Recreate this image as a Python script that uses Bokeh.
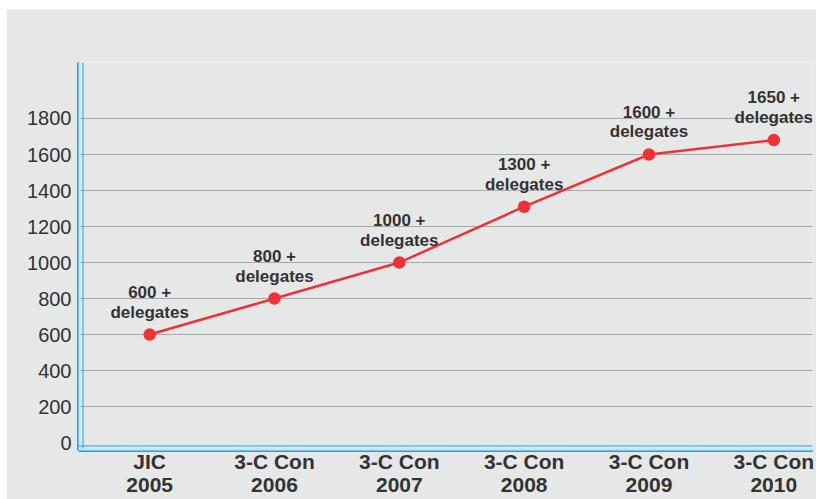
from bokeh.plotting import figure
from bokeh.models import ColumnDataSource, FixedTicker, Span, Range1d, Spacer
from bokeh.layouts import column, row
from bokeh.core.properties import value
from bokeh.embed import file_html
from bokeh.resources import INLINE

# ---- data ----
events = ["JIC", "3-C Con", "3-C Con", "3-C Con", "3-C Con", "3-C Con"]
years = ["2005", "2006", "2007", "2008", "2009", "2010"]
delegates = [600, 800, 1000, 1310, 1600, 1680]
point_labels = ["600 +", "800 +", "1000 +", "1300 +", "1600 +", "1650 +"]
y_ticks = [0, 200, 400, 600, 800, 1000, 1200, 1400, 1600, 1800]

X0, X1 = -0.57, 5.31
Y0, Y1 = -44, 2111

xs = list(range(len(events)))
src = ColumnDataSource(dict(
    x=xs,
    y=delegates,
    lab=[f"{a}\ndelegates" for a in point_labels],
))

BG = "#e6e7e7"
RED = "#ee3338"
BLUE = "#1aa6e2"
FONT = "Liberation Sans"

p = figure(width=810, height=490, output_backend="svg", toolbar_location=None,
           x_range=Range1d(X0, X1), y_range=Range1d(Y0, Y1),
           min_border_left=72, min_border_right=4, min_border_top=53, min_border_bottom=49)
p.background_fill_color = BG
p.border_fill_color = BG
p.outline_line_color = None

p.line("x", "y", source=src, line_color=RED, line_width=2.5)
p.scatter("x", "y", source=src, size=12.5, fill_color=RED, line_color=None)
p.text("x", "y", text="lab", source=src, text_align="center", text_baseline="bottom",
       y_offset=-13, text_font=value(FONT), text_font_style="bold", text_font_size="17px",
       text_color="#333333", text_line_height=1.05)

# axes
p.xaxis.ticker = FixedTicker(ticks=xs)
p.xaxis.major_label_overrides = {i: f"{e}\n{y}" for i, (e, y) in enumerate(zip(events, years))}
p.yaxis.ticker = FixedTicker(ticks=y_ticks)
for ax in (p.xaxis, p.yaxis):
    ax.axis_line_color = BLUE
    ax.axis_line_width = 3
    ax.major_tick_line_color = None
    ax.minor_tick_line_color = None
    ax.major_tick_out = 0
    ax.major_tick_in = 0
    ax.minor_tick_out = 0
    ax.major_label_text_font = FONT
    ax.major_label_text_color = "#333333"
p.xaxis.major_label_text_font_style = "bold"
p.xaxis.major_label_text_font_size = "21px"
p.xaxis.major_label_text_line_height = 1.0
p.xaxis.major_label_standoff = -1
p.yaxis.major_label_text_font_size = "20px"
p.yaxis.major_label_standoff = 7

# grid
p.xgrid.grid_line_color = None
p.ygrid.ticker = FixedTicker(ticks=y_ticks[1:])
p.ygrid.grid_line_color = "#a8a8a8"
p.ygrid.grid_line_width = 1.2

# inner light-blue double line effect
p.add_layout(Span(location=X0, dimension="height", line_color="#bfe6f8", line_width=4))
p.add_layout(Span(location=X0 + 4.5 / 124.8, dimension="height", line_color=BLUE, line_width=1))
p.add_layout(Span(location=Y0, dimension="width", line_color="#bfe6f8", line_width=4))
p.add_layout(Span(location=Y0 + 4.5 / 0.18, dimension="width", line_color=BLUE, line_width=1))

layout = column(Spacer(width=816, height=9),
                row(Spacer(width=6, height=490), p, spacing=0),
                spacing=0)
open("out.html", "w").write(file_html(layout, INLINE))
